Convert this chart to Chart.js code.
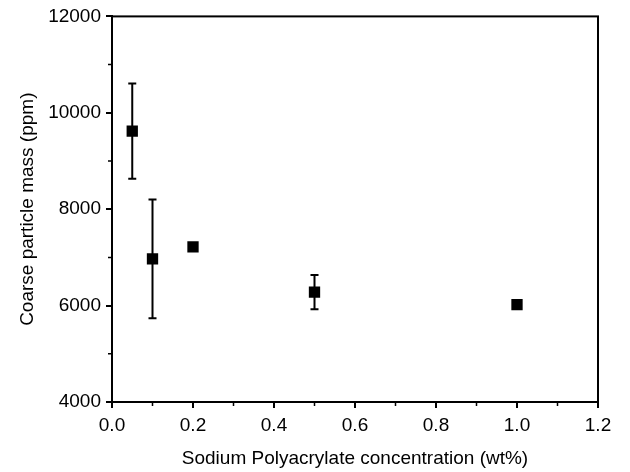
<!DOCTYPE html>
<html>
<head>
<meta charset="utf-8">
<script src="https://cdn.jsdelivr.net/npm/chart.js@4.4.1/dist/chart.umd.min.js"></script>
<style>
  html, body { margin: 0; padding: 0; background: #fff; }
  #wrap { width: 630px; height: 472px; }
</style>
</head>
<body>
<div id="wrap"><canvas id="grafica" width="630" height="472"></canvas></div>
<script>
// datos
const concentracion = [0.05, 0.1, 0.2, 0.5, 1.0];
const masaGruesa = [9620, 6970, 7220, 6280, 6020];
const errorMasa = [990, 1230, 0, 355, 0];
const ticksX = [0, 0.2, 0.4, 0.6, 0.8, 1.0, 1.2];
const ticksY = [4000, 6000, 8000, 10000, 12000];
const menoresX = [0.1, 0.3, 0.5, 0.7, 0.9, 1.1];
const menoresY = [5000, 7000, 9000, 11000];

const fuente = "'Liberation Sans', Arial, sans-serif";

// --- barras de error, marco y ticks menores ---
const pluginExtras = {
    id: 'extras',
    beforeDatasetsDraw(chart) {
        const ctx = chart.ctx;
        const sx = chart.scales.x, sy = chart.scales.y;
        ctx.save();
        ctx.strokeStyle = '#000';
        ctx.lineWidth = 2;
        concentracion.forEach((c, i) => {
            const e = errorMasa[i];
            if (!e) return;
            const px = sx.getPixelForValue(c);
            const arriba = sy.getPixelForValue(masaGruesa[i] + e);
            const abajo = sy.getPixelForValue(masaGruesa[i] - e);
            ctx.beginPath();
            ctx.moveTo(px, arriba); ctx.lineTo(px, abajo);
            ctx.moveTo(px - 4, arriba); ctx.lineTo(px + 4, arriba);
            ctx.moveTo(px - 4, abajo); ctx.lineTo(px + 4, abajo);
            ctx.stroke();
        });
        ctx.restore();
    },
    afterDraw(chart) {
        const ctx = chart.ctx;
        const a = chart.chartArea;
        const sx = chart.scales.x, sy = chart.scales.y;
        ctx.save();
        ctx.strokeStyle = '#000';
        ctx.lineWidth = 2;
        ctx.strokeRect(a.left, a.top, a.right - a.left, a.bottom - a.top);
        ctx.lineWidth = 1.5;
        ctx.beginPath();
        menoresX.forEach(v => {
            const px = sx.getPixelForValue(v);
            ctx.moveTo(px, a.bottom); ctx.lineTo(px, a.bottom + 4);
        });
        menoresY.forEach(v => {
            const py = sy.getPixelForValue(v);
            ctx.moveTo(a.left, py); ctx.lineTo(a.left - 4, py);
        });
        ctx.stroke();
        ctx.restore();
    }
};

const ctx = document.getElementById('grafica').getContext('2d');
const miGrafica = new Chart(ctx, {
    type: 'scatter',
    data: {
        datasets: [{
            data: concentracion.map((c, i) => ({ x: c, y: masaGruesa[i] })),
            pointStyle: 'rect',
            pointRadius: 8,
            pointHoverRadius: 8,
            backgroundColor: '#000',
            borderColor: '#000',
            borderWidth: 0
        }]
    },
    options: {
        responsive: false,
        animation: false,
        layout: { padding: { top: 15, right: 32, left: 0, bottom: 0 } },
        plugins: { legend: { display: false }, tooltip: { enabled: false } },
        scales: {
            x: {
                type: 'linear', min: 0, max: 1.2,
                afterBuildTicks: s => { s.ticks = ticksX.map(v => ({ value: v })); },
                afterFit: s => { s.height = 70; },
                grid: { display: true, drawOnChartArea: false, drawTicks: true, tickLength: 6, color: '#000', lineWidth: 2 },
                border: { display: true, color: '#000', width: 2 },
                ticks: {
                    color: '#000', padding: 6,
                    font: { family: fuente, size: 19 },
                    callback: v => Number(v).toFixed(1)
                },
                title: {
                    display: true, text: 'Sodium Polyacrylate concentration (wt%)',
                    color: '#000', font: { family: fuente, size: 19 }, padding: { top: 0, bottom: 2 }
                }
            },
            y: {
                type: 'linear', min: 4000, max: 12000,
                afterBuildTicks: s => { s.ticks = ticksY.map(v => ({ value: v })); },
                afterFit: s => { s.width = 112; },
                grid: { display: true, drawOnChartArea: false, drawTicks: true, tickLength: 6, color: '#000', lineWidth: 2 },
                border: { display: true, color: '#000', width: 2 },
                ticks: {
                    color: '#000', padding: 5,
                    font: { family: fuente, size: 19 },
                    callback: v => String(v)
                },
                title: {
                    display: true, text: 'Coarse particle mass (ppm)',
                    color: '#000', font: { family: fuente, size: 19 }, padding: { top: 16, bottom: 0 }
                }
            }
        }
    },
    plugins: [pluginExtras]
});
</script>
</body>
</html>
